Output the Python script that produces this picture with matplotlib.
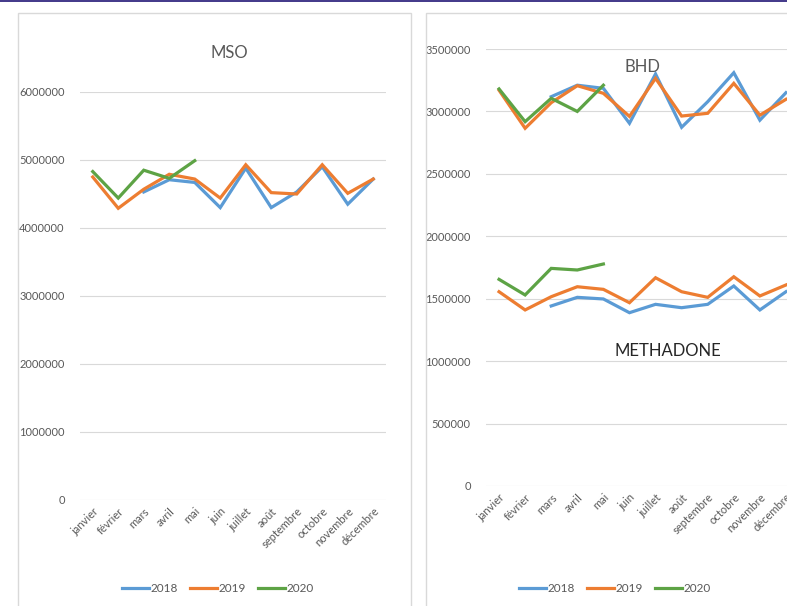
import numpy as np
import matplotlib
matplotlib.use('Agg')
import matplotlib.pyplot as plt
from matplotlib.patches import Rectangle
from matplotlib.lines import Line2D

months = ['janvier', 'février', 'mars', 'avril', 'mai', 'juin', 'juillet',
          'août', 'septembre', 'octobre', 'novembre', 'décembre']
years = ['2018', '2019', '2020']
nan = np.nan

# MSO
mso2018 = [nan, nan, 4530000, 4710000, 4670000, 4300000, 4880000, 4300000, 4530000, 4900000, 4350000, 4720000]
mso2019 = [4750000, 4290000, 4570000, 4790000, 4720000, 4440000, 4930000, 4520000, 4500000, 4930000, 4510000, 4720000]
mso2020 = [4830000, 4440000, 4850000, 4730000, 4990000] + [nan]*7

# BHD
bhd2018 = [nan, nan, 3118000, 3210000, 3185000, 2905000, 3300000, 2873000, 3078000, 3310000, 2930000, 3150000]
bhd2019 = [3170000, 2865000, 3070000, 3206000, 3145000, 2960000, 3265000, 2963000, 2985000, 3225000, 2970000, 3097000]
bhd2020 = [3180000, 2918000, 3105000, 3000000, 3210000] + [nan]*7

# METHADONE
met2018 = [nan, nan, 1442000, 1511000, 1498000, 1388000, 1455000, 1428000, 1455000, 1602000, 1410000, 1556000]
met2019 = [1556000, 1410000, 1516000, 1596000, 1575000, 1468000, 1668000, 1556000, 1511000, 1676000, 1522000, 1610000]
met2020 = [1655000, 1530000, 1743000, 1730000, 1778000] + [nan]*7

colors = ['#5B9BD5', '#ED7D31', '#5DA345']
grid_c = '#d9d9d9'
txt_c = '#595959'
font = 'Lato'

W, H = 787, 606
fig = plt.figure(figsize=(W/100, H/100), dpi=100)

def px(x0, y0, x1, y1):
  return [x0/W, 1 - y1/H, (x1-x0)/W, (y1-y0)/H]

# panel frames and top band
fig.patches.append(Rectangle((18/W, -0.1), (411-18)/W, 1.1 - 13/H, transform=fig.transFigure,
                             fill=False, edgecolor='#d9d9d9', lw=1))
fig.patches.append(Rectangle((426/W, -0.1), 0.6, 1.1 - 13/H, transform=fig.transFigure,
                             fill=False, edgecolor='#d9d9d9', lw=1))
fig.patches.append(Rectangle((0, 1 - 2/H), 1, 2/H, transform=fig.transFigure,
                             facecolor='#463c8c', edgecolor='none'))

def setup(ax, ymax, step):
  x = np.arange(len(months))
  ax.set_xlim(-0.5, len(months) - 0.5)
  ax.set_ylim(0, ymax)
  ax.set_yticks(np.arange(0, ymax + 1, step))
  ax.yaxis.set_major_formatter(matplotlib.ticker.FuncFormatter(lambda v, p: '%d' % v))
  ax.set_xticks(x)
  ax.set_xticklabels(months, rotation=45, ha='right', rotation_mode='anchor',
                     fontsize=8, color=txt_c, family=font)
  for lab in ax.get_yticklabels():
    lab.set_fontsize(8)
    lab.set_color(txt_c)
    lab.set_family(font)
  ax.tick_params(length=0)
  ax.tick_params(axis='y', pad=11)
  ax.tick_params(axis='x', pad=4)
  for s in ax.spines.values():
    s.set_visible(False)
  ax.grid(axis='y', color=grid_c, lw=0.8)
  ax.set_axisbelow(True)
  return x

ax1 = fig.add_axes(px(80, 92, 386, 500))
x = setup(ax1, 6000000, 1000000)
for vals, c in zip([mso2018, mso2019, mso2020], colors):
  ax1.plot(x, vals, color=c, lw=2.3, solid_joinstyle='miter')

ax2 = fig.add_axes(px(486, 49, 799, 486))
x = setup(ax2, 3500000, 500000)
for grp in ([bhd2018, bhd2019, bhd2020], [met2018, met2019, met2020]):
  for vals, c in zip(grp, colors):
    ax2.plot(x, vals, color=c, lw=2.3, solid_joinstyle='miter')

fig.text(229/W, 1 - 53/H, 'MSO', ha='center', va='center', fontsize=12, color=txt_c, family=font)
fig.text(642/W, 1 - 67/H, 'BHD', ha='center', va='center', fontsize=12, color=txt_c, family=font)
fig.text(668/W, 1 - 351/H, 'METHADONE', ha='center', va='center', fontsize=12, color='#262626', family=font)

handles = [Line2D([], [], color=c, lw=2.3) for c in colors]
for cx in (218, 615):
  leg = fig.legend(handles, years, loc='center', bbox_to_anchor=(cx/W, 1 - 589/H),
                   ncol=3, frameon=False, handlelength=2.3, handletextpad=0.15,
                   columnspacing=1.0, prop={'family': font, 'size': 8.5})
  for t in leg.get_texts():
    t.set_color(txt_c)

fig.savefig('out.png', dpi=100)
